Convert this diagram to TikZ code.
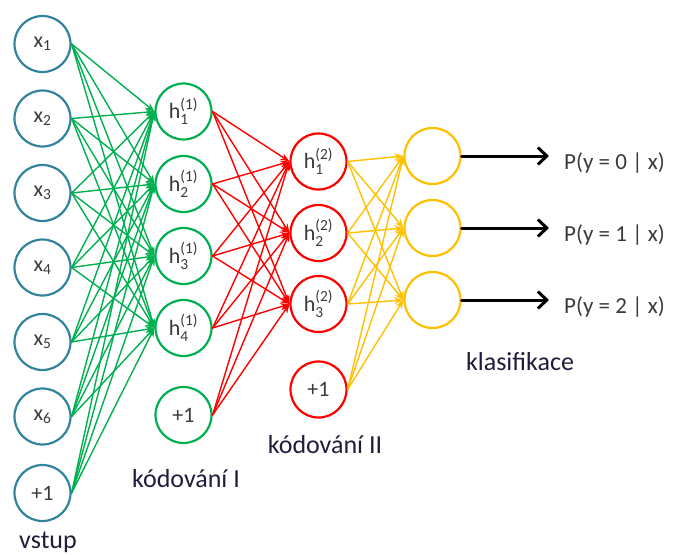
\documentclass[tikz,border=0pt]{standalone}
\usepackage{amsmath}
\usepackage{fontspec}
\setmainfont{Carlito}
\usetikzlibrary{arrows.meta}
\definecolor{xanhduong}{HTML}{31849B}
\definecolor{xanhla}{HTML}{00B050}
\definecolor{do}{HTML}{FF0000}
\definecolor{vang}{HTML}{FFC000}
\definecolor{chu}{HTML}{3A3A3A}
\definecolor{chunhan}{HTML}{1E1E3C}
\begin{document}
\begin{tikzpicture}[x=1pt, y=-1pt, line join=round, line cap=round,
 neuron/.style={circle, draw, line width=2.2pt, minimum size=56pt, inner sep=0pt, text=chu, font=\fontsize{22}{26}\selectfont},
 canh/.style={line width=1.4pt, -{Stealth[length=9pt,width=7pt]}},
 nhan/.style={anchor=base, text=chunhan, font=\fontsize{26}{30}\selectfont}]
\useasboundingbox (0,0) rectangle (674,554);
% Lop vao
\foreach \i/\y in {1/44,2/118.5,3/193,4/267.5,5/342,6/416.5}
 \node[neuron, draw=xanhduong] (x\i) at (42.5,\y) {x\textsubscript{\i}};
\node[neuron, draw=xanhduong] (xb) at (42.5,493) {+1};
% Lop an thu nhat
\foreach \i/\y in {1/111.5,2/184,3/256,4/328}
 \node[neuron, draw=xanhla] (a\i) at (183.5,\y) {h$^{\text{(1)}}_{\text{\i}}$};
\node[neuron, draw=xanhla] (ab) at (183.5,415) {+1};
% Lop an thu hai
\foreach \i/\y in {1/161.5,2/233,3/304}
 \node[neuron, draw=do] (b\i) at (318.5,\y) {h$^{\text{(2)}}_{\text{\i}}$};
\node[neuron, draw=do] (bb) at (318.5,389.5) {+1};
% Lop ra
\foreach \i/\y in {1/156,2/228,3/300}
 \node[neuron, draw=vang] (c\i) at (432.5,\y) {};
% Cac canh
\foreach \i in {1,2,3,4,5,6,b}
 \foreach \j in {1,2,3,4}
  \draw[canh, xanhla] (x\i.east) -- (a\j.west);
\foreach \i in {1,2,3,4,b}
 \foreach \j in {1,2,3}
  \draw[canh, do] (a\i.east) -- (b\j.west);
\foreach \i in {1,2,3,b}
 \foreach \j in {1,2,3}
  \draw[canh, vang] (b\i.east) -- (c\j.west);
% Xac suat dau ra
\foreach \i/\k in {1/0,2/1,3/2} {
 \node[anchor=base west, inner sep=0pt, text=chu, font=\fontsize{23}{27}\selectfont]
  (p\i) at ([yshift=-13pt]c\i.center -| 564,0) {P(y = \k{} | x)};
 \draw[line width=3pt, shorten >=15pt, -{Straight Barb[length=9pt,width=17pt]}]
  (c\i.east) -- (c\i.east -| p\i.west);
}
% Nhan cac lop
\node[nhan] (vstup) at (48,548) {vstup};
\node[nhan] (kod1) at (186,487) {kódování I};
\node[nhan] (kod2) at (325,453) {kódování II};
\node[nhan] (klas) at (520,370) {klasifikace};
\end{tikzpicture}
\end{document}
